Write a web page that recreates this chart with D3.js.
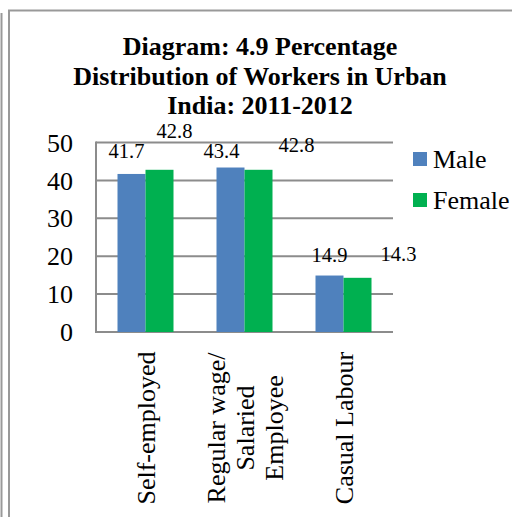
<!DOCTYPE html>
<html>
<head>
<meta charset="utf-8">
<script src="https://cdn.jsdelivr.net/npm/d3@7"></script>
<style>
  html, body { margin: 0; padding: 0; background: #fff; }
  text { font-family: "Liberation Serif", "Times New Roman", serif; fill: #000; }
</style>
</head>
<body>
<div id="chart"></div>
<script>
// Chart data
var categories = ["Self-employed", "Regular wage/|Salaried|Employee", "Casual Labour"];
var seriesNames = ["Male", "Female"];
var maleValues = [41.7, 43.4, 14.9];
var femaleValues = [42.8, 42.8, 14.3];
var yTicks = [0, 10, 20, 30, 40, 50];
var titleLines = ["Diagram: 4.9 Percentage", "Distribution of Workers in Urban", "India: 2011-2012"];

// Label nudges (as placed in the original), [dx, dy] from bar top centre
var labelNudge = [
    [[-5, -16], [15, -32]],
    [[-9, -10], [38, -18]],
    [[0, -14], [41, -17]]
];

function drawChart() {
    d3.select("#chart").select("svg").remove();

    var W = 512, H = 517;
    var margin = { top: 142.5, left: 96, right: 119, bottom: 185 },
        width = W - margin.left - margin.right,
        height = H - margin.top - margin.bottom;

    var svg = d3.select("#chart").append("svg")
        .attr("width", W)
        .attr("height", H);

    // frame lines
    svg.append("line").attr("x1", 1.5).attr("x2", 1.5).attr("y1", 13).attr("y2", H)
        .attr("stroke", "#999").attr("stroke-width", 2);
    svg.append("path").attr("d", `M9,${H}V10.5H${W}`)
        .attr("fill", "none").attr("stroke", "#999").attr("stroke-width", 2);

    // title
    svg.append("text")
        .attr("text-anchor", "middle")
        .style("font-weight", "bold")
        .style("font-size", "26px")
        .selectAll("tspan")
        .data(titleLines)
        .enter().append("tspan")
        .attr("x", 260)
        .attr("y", (d, i) => 55 + i * 29.5)
        .text(d => d);

    var g = svg.append("g")
        .attr("transform", `translate(${margin.left},${margin.top})`);

    var x = d3.scaleBand()
        .domain(categories)
        .range([0, width])
        .paddingInner(0)
        .paddingOuter(0);

    var inner = d3.scaleBand()
        .domain(seriesNames)
        .range([x.bandwidth() / 2 - 28, x.bandwidth() / 2 + 28]);

    var y = d3.scaleLinear()
        .domain([0, 50])
        .range([height, 0]);

    var color = d3.scaleOrdinal()
        .domain(seriesNames)
        .range(["#4F81BD", "#00B050"]);

    // gridlines
    g.selectAll(".grid")
        .data(yTicks)
        .enter().append("line")
        .attr("x1", 0).attr("x2", width)
        .attr("y1", d => y(d)).attr("y2", d => y(d))
        .attr("stroke", "#8c8c8c")
        .attr("stroke-width", 2);

    // y axis line
    g.append("line")
        .attr("x1", 0).attr("x2", 0)
        .attr("y1", y(50) - 1).attr("y2", y(0) + 1)
        .attr("stroke", "#8c8c8c")
        .attr("stroke-width", 2);

    // y tick labels
    g.selectAll(".ytick")
        .data(yTicks)
        .enter().append("text")
        .attr("x", -23)
        .attr("y", d => y(d))
        .attr("dy", "0.35em")
        .attr("text-anchor", "end")
        .style("font-size", "26px")
        .text(d => d);

    var values = [maleValues, femaleValues];
    var rows = [];
    categories.forEach(function (c, i) {
        seriesNames.forEach(function (s, j) {
            rows.push({ cat: c, series: s, value: values[j][i], ci: i, si: j });
        });
    });

    // bars
    g.selectAll(".bar")
        .data(rows)
        .enter().append("rect")
        .attr("x", d => x(d.cat) + inner(d.series))
        .attr("y", d => y(d.value))
        .attr("width", inner.bandwidth())
        .attr("height", d => y(0) - y(d.value))
        .attr("fill", d => color(d.series));

    // value labels
    g.selectAll(".vlabel")
        .data(rows)
        .enter().append("text")
        .attr("x", d => x(d.cat) + inner(d.series) + inner.bandwidth() / 2 + labelNudge[d.ci][d.si][0])
        .attr("y", d => y(d.value) + labelNudge[d.ci][d.si][1])
        .attr("text-anchor", "middle")
        .style("font-size", "20.5px")
        .text(d => d.value.toFixed(1));

    // category labels (rotated)
    categories.forEach(function (c) {
        var lines = c.split("|");
        var cx = x(c) + x.bandwidth() / 2;
        var t = g.append("text")
            .attr("transform", `translate(${cx},${y(0) + 96}) rotate(-90)`)
            .attr("text-anchor", "middle")
            .style("font-size", "26px");
        t.selectAll("tspan")
            .data(lines)
            .enter().append("tspan")
            .attr("x", 0)
            .attr("y", (d, i) => (i - (lines.length - 1) / 2) * 29)
            .attr("dy", "0.35em")
            .text(d => d);
    });

    // legend
    var legend = svg.append("g")
        .attr("transform", "translate(413,152)");
    seriesNames.forEach(function (s, i) {
        legend.append("rect")
            .attr("x", 0).attr("y", i * 41)
            .attr("width", 14).attr("height", 14)
            .attr("fill", color(s));
        legend.append("text")
            .attr("x", 20).attr("y", i * 41 + 7)
            .attr("dy", "0.35em")
            .style("font-size", "26px")
            .text(s);
    });
}

document.addEventListener('DOMContentLoaded', drawChart);
</script>
</body>
</html>
